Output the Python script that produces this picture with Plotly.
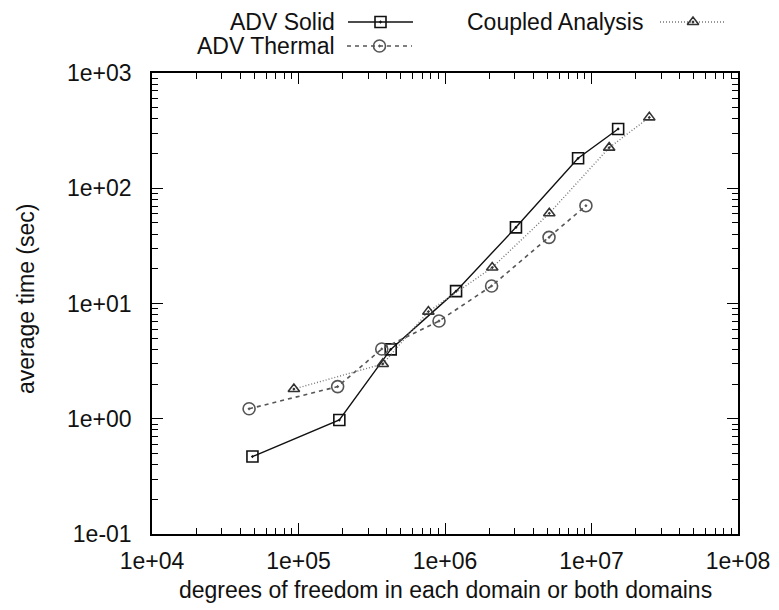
import plotly.graph_objects as go

# Degrees of freedom vs. average solve time
solid_dof = [4.85e4, 1.9e5, 4.26e5, 1.19e6, 3.05e6, 8.1e6, 1.52e7]
solid_time = [0.47, 0.975, 4.0, 12.8, 45.8, 182, 327]

thermal_dof = [4.6e4, 1.85e5, 3.7e5, 9.1e5, 2.08e6, 5.13e6, 9.16e6]
thermal_time = [1.22, 1.9, 4.03, 7.05, 14.2, 37.5, 70.6]

coupled_dof = [9.3e4, 3.76e5, 7.7e5, 2.1e6, 5.15e6, 1.32e7, 2.48e7]
coupled_time = [1.81, 2.99, 8.5, 20.5, 60.6, 225, 412]

x_tickvals = [1e4, 1e5, 1e6, 1e7, 1e8]
x_ticktext = ["1e+04", "1e+05", "1e+06", "1e+07", "1e+08"]
y_tickvals = [1e-1, 1e0, 1e1, 1e2, 1e3]
y_ticktext = ["1e-01", "1e+00", "1e+01", "1e+02", "1e+03"]

x_title = "degrees of freedom in each domain or both domains"
y_title = "average time (sec)"

FONT = "Liberation Sans, Arial, Helvetica, sans-serif"
FS = 23
TXT = "#111111"

# page geometry (pixels)
W, H = 779, 610
L, R, B = 152, 41, 76
PLOT_TOP = 73
AREA_W = W - L - R
AREA_H = H - B          # plotting area spans from page top to the x axis
MAIN_TOP = (AREA_H - PLOT_TOP) / AREA_H


def paper_x(px):
    return (px - L) / AREA_W


def paper_y(py):
    return (AREA_H - py) / AREA_H


def minor_vals(lo, hi):
    vals = []
    for e in range(lo, hi):
        for m in range(2, 10):
            vals.append(m * 10 ** e)
    return vals


series = [
    dict(name="ADV Solid", x=solid_dof, y=solid_time, color="#111111",
         dash="solid", width=1.4, symbol="square-open-dot", size=11, mcolor="#111111"),
    dict(name="ADV Thermal", x=thermal_dof, y=thermal_time, color="#555555",
         dash="4px,4px", width=1.6, symbol="circle-open-dot", size=12, mcolor="#555555"),
    dict(name="Coupled Analysis", x=coupled_dof, y=coupled_time, color="#777777",
         dash="1px,2px", width=1.4, symbol="triangle-up-open-dot", size=10, mcolor="#333333"),
]

fig = go.Figure()
for s in series:
    fig.add_trace(go.Scatter(
        x=s["x"], y=s["y"], mode="lines+markers", name=s["name"], showlegend=False,
        line=dict(color=s["color"], dash=s["dash"], width=s["width"]),
        marker=dict(symbol=s["symbol"], size=s["size"], color=s["mcolor"],
                    line=dict(width=1.6, color=s["mcolor"])),
        xaxis="x", yaxis="y",
    ))

# key: text right-aligned, sample to its right (page-pixel units on x2/y2)
key_layout = [
    # text right edge, row centre, sample start, sample end
    (337, 22, 348, 413),
    (337, 46, 347, 412),
    (645, 22, 660, 726),
]
annotations = []
for s, (tx, ty, x0, x1) in zip(series, key_layout):
    annotations.append(dict(
        x=paper_x(tx), y=paper_y(ty), xref="paper", yref="paper", text=s["name"],
        showarrow=False, xanchor="right", yanchor="middle",
        font=dict(family=FONT, size=FS, color=TXT),
    ))
    fig.add_trace(go.Scatter(
        x=[x0, x1], y=[ty, ty], mode="lines", showlegend=False, hoverinfo="skip",
        line=dict(color=s["color"], dash=s["dash"], width=s["width"]),
        xaxis="x2", yaxis="y2", cliponaxis=False,
    ))
    fig.add_trace(go.Scatter(
        x=[(x0 + x1) / 2], y=[ty], mode="markers", showlegend=False, hoverinfo="skip",
        marker=dict(symbol=s["symbol"], size=s["size"], color=s["mcolor"],
                    line=dict(width=1.6, color=s["mcolor"])),
        xaxis="x2", yaxis="y2", cliponaxis=False,
    ))

# axis titles
annotations.append(dict(
    x=0.5, y=paper_y(590), xref="paper", yref="paper", text=x_title, showarrow=False,
    xanchor="center", yanchor="middle", font=dict(family=FONT, size=FS, color=TXT),
))
annotations.append(dict(
    x=paper_x(26), y=paper_y(299), xref="paper", yref="paper", text=y_title,
    showarrow=False, textangle=-90, xanchor="center", yanchor="middle",
    font=dict(family=FONT, size=FS, color=TXT),
))

axis_common = dict(
    type="log", showgrid=False, zeroline=False, showline=True, linecolor="#000000",
    linewidth=1.5, mirror="allticks", ticks="inside", ticklen=11, tickwidth=1.3,
    tickcolor="#000000", tickmode="array", automargin=False,
    tickfont=dict(family=FONT, size=FS, color=TXT),
)

fig.update_layout(
    width=W, height=H,
    margin=dict(l=L, r=R, t=0, b=B, pad=0, autoexpand=False),
    paper_bgcolor="white", plot_bgcolor="rgba(0,0,0,0)",
    xaxis=dict(axis_common, range=[4, 8], tickvals=x_tickvals, ticktext=x_ticktext,
               ticklabelstandoff=6, domain=[0, 1], anchor="y",
               minor=dict(ticks="inside", ticklen=6, tickwidth=1.2, tickcolor="#000000",
                          tickvals=minor_vals(4, 8))),
    yaxis=dict(axis_common, range=[-1, 3], tickvals=y_tickvals, ticktext=y_ticktext,
               domain=[0, MAIN_TOP], anchor="x", ticklabelstandoff=14,
               minor=dict(ticks="inside", ticklen=6, tickwidth=1.2, tickcolor="#000000",
                          tickvals=minor_vals(-1, 3))),
    xaxis2=dict(range=[L, W - R], visible=False, domain=[0, 1], anchor="y2",
                fixedrange=True, automargin=False),
    yaxis2=dict(range=[AREA_H, 0], visible=False, domain=[0, 1], anchor="x2",
                fixedrange=True, automargin=False),
    annotations=annotations,
    showlegend=False,
)

fig.write_html("out.html")
